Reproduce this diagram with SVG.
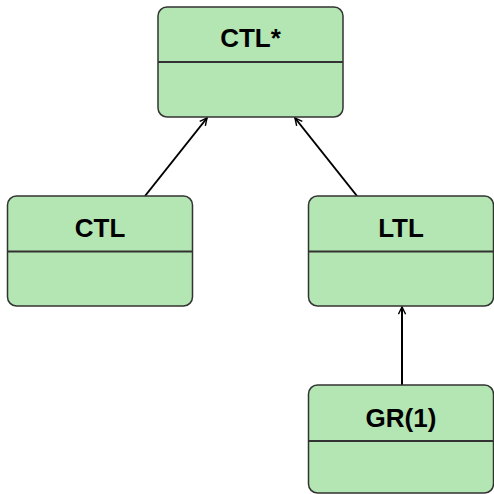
<svg xmlns="http://www.w3.org/2000/svg" width="494" height="494" viewBox="0 0 494 494">
<style>
.box{fill:#b3e6b3;stroke:#333;stroke-width:1.5}
.div{stroke:#333;stroke-width:2}
.lbl{font-family:"Liberation Sans",Arial,sans-serif;font-weight:bold;font-size:26px;fill:#000;text-anchor:middle}
.edge{stroke:#000;stroke-width:2;fill:none;marker-end:url(#arr)}
</style>
<defs>
<marker id="arr" viewBox="0 0 10 10" refX="9" refY="5" markerWidth="9" markerHeight="9" orient="auto" markerUnits="userSpaceOnUse">
<path d="M1,1 L9,5 L1,9" fill="none" stroke="#000" stroke-width="1.6"/>
</marker>
</defs>
<g id="connectors">
<line class="edge" x1="145" y1="196" x2="207" y2="118"/>
<line class="edge" x1="357" y1="196" x2="295" y2="118"/>
<line class="edge" x1="402" y1="385" x2="402" y2="307"/>
</g>
<g id="node-ctlstar">
<rect class="box" x="158" y="7" width="185" height="110" rx="9"/>
<line class="div" x1="158" y1="62" x2="343" y2="62"/>
<text class="lbl" x="250.5" y="47">CTL*</text>
</g>
<g id="node-ctl">
<rect class="box" x="7.5" y="196" width="185" height="110" rx="9"/>
<line class="div" x1="7.5" y1="251.5" x2="192.5" y2="251.5"/>
<text class="lbl" x="100" y="237">CTL</text>
</g>
<g id="node-ltl">
<rect class="box" x="308.5" y="196" width="185" height="110" rx="9"/>
<line class="div" x1="308.5" y1="251.5" x2="493.5" y2="251.5"/>
<text class="lbl" x="401" y="237">LTL</text>
</g>
<g id="node-gr1">
<rect class="box" x="308.5" y="385" width="185" height="108" rx="9"/>
<line class="div" x1="308.5" y1="441" x2="493.5" y2="441"/>
<text class="lbl" x="401" y="427">GR(1)</text>
</g>
</svg>
